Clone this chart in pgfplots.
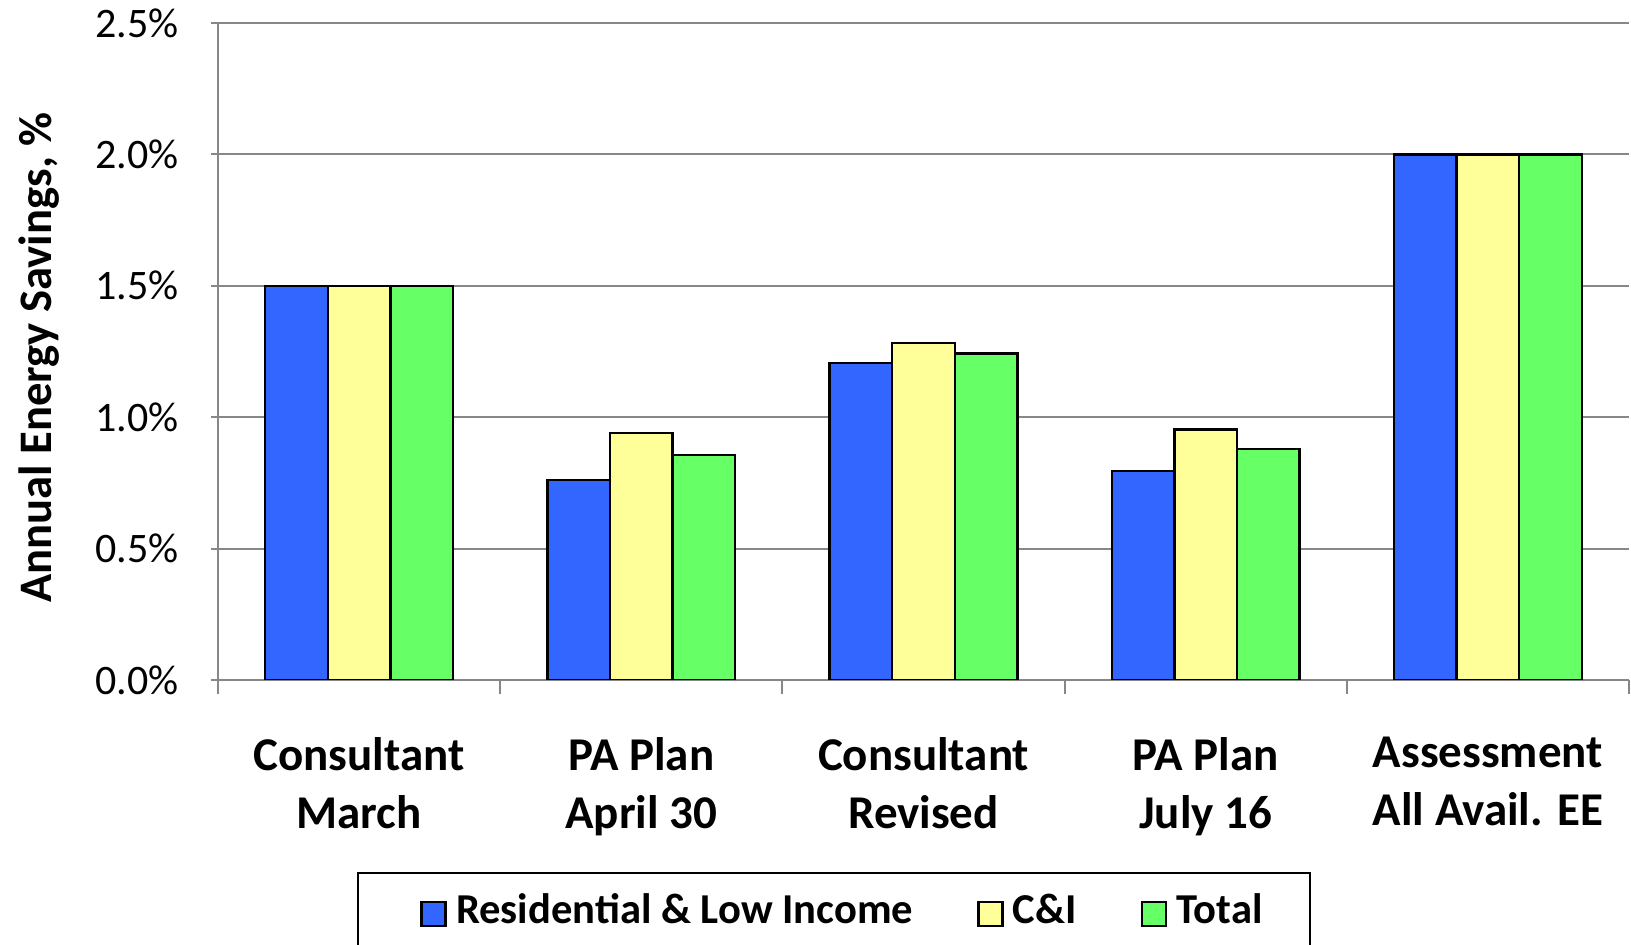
\documentclass[border=0pt]{standalone}
\usepackage{pgfplots}
\pgfplotsset{compat=1.18}
\usepackage{fontspec}
\setmainfont{Carlito}
\definecolor{resblue}{HTML}{3366FF}
\definecolor{ciyellow}{HTML}{FFFF99}
\definecolor{totgreen}{HTML}{66FF66}
\definecolor{axgray}{HTML}{878787}
\pgfplotsset{sqlegend/.style={legend image code/.code={\path (-9.4pt,0pt); \draw[##1,draw=black,line width=1.2pt] (0pt,-7.8pt) rectangle (12pt,4.2pt);}}}
\begin{document}
\begin{tikzpicture}
\useasboundingbox (-109pt,-132.5pt) rectangle (706.5pt,340pt);
\clip (-109pt,-132.5pt) rectangle (706.5pt,340pt);
\begin{axis}[
  at={(0,0)}, anchor=south west,
  scale only axis, width=705.5pt, height=328.5pt,
  ymin=0, ymax=2.5, xmin=-0.5, xmax=4.5,
  ybar=0pt, bar width=0.222,
  ytick={0,0.5,1,1.5,2,2.5},
  ymajorgrids, grid style={axgray, line width=1pt},
  axis x line*=bottom, axis y line*=left,
  axis line style={axgray, line width=1pt},
  tick align=outside, major tick length=6.8pt,
  tick style={axgray, line width=1pt},
  ytick style={xshift=3.2pt},
  /pgf/number format/assume math mode=true,
  yticklabel={\pgfmathprintnumber[fixed,fixed zerofill,precision=1]{\tick}\%},
  yticklabel style={font=\fontsize{21}{25}\selectfont, xshift=-9.3pt},
  xtick={-0.5,0.5,1.5,2.5,3.5,4.5}, xticklabels={},
  extra x ticks={0,1,2,3,4},
  extra x tick labels={{Consultant\\March},{PA Plan\\April 30},{Consultant\\Revised},{PA Plan\\July 16},{Assessment\\All Avail. EE}},
  extra x tick style={major tick length=0pt, grid=none,
    xticklabel style={font=\bfseries\fontsize{23.5}{29}\selectfont, align=center, yshift=-25pt}},
  ylabel={Annual Energy Savings, \%},
  ylabel style={at={(axis description cs:-0.1269,0.4905)}, anchor=center, font=\bfseries\fontsize{23.3}{27}\selectfont},
  legend columns=3,
  legend style={at={(axis description cs:0.0985,-0.2922)}, anchor=north west,
    draw=black, line width=1pt, font=\bfseries\fontsize{21.3}{25}\selectfont,
    inner xsep=21.8pt, inner ysep=8.5pt,
    /tikz/every odd column/.append style={column sep=2.7pt},
    /tikz/every even column/.append style={column sep=20.5pt}},
]
\addplot[fill=resblue, draw=black, line width=1.2pt, sqlegend] coordinates {(0,1.5) (1,0.76) (2,1.207) (3,0.795) (4,2.0)};
\addplot[fill=ciyellow, draw=black, line width=1.2pt, sqlegend] coordinates {(0,1.5) (1,0.94) (2,1.282) (3,0.953) (4,2.0)};
\addplot[fill=totgreen, draw=black, line width=1.2pt, sqlegend] coordinates {(0,1.5) (1,0.855) (2,1.242) (3,0.878) (4,2.0)};
\legend{Residential \& Low Income, C\&I, Total}
\end{axis}
\end{tikzpicture}
\end{document}
